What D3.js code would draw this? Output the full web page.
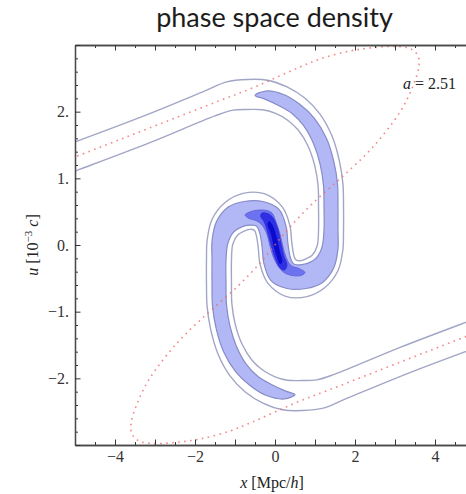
<!DOCTYPE html>
<html><head><meta charset="utf-8">
<script src="https://cdn.jsdelivr.net/npm/d3@7"></script>
<style>html,body{margin:0;padding:0;background:#fff;} svg{display:block;}</style>
</head><body>
<svg id="chart" width="466" height="494"></svg>
<script>
// ---------- data ----------
const xDomain = [-5, 5];
const uDomain = [-3, 3];
const xMajorTicks = [-5,-4,-3,-2,-1,0,1,2,3,4,5];
const xMinorTicks = [-4.5,-3.5,-2.5,-1.5,-0.5,0.5,1.5,2.5,3.5,4.5];
const xLabelTicks = [-4,-2,0,2,4];
const uMajorTicks = [-3,-2,-1,0,1,2,3];
const uMinorTicks = [-2.8,-2.6,-2.4,-2.2,-1.8,-1.6,-1.4,-1.2,-0.8,-0.6,-0.4,-0.2,0.2,0.4,0.6,0.8,1.2,1.4,1.6,1.8,2.2,2.4,2.6,2.8];
const uLabelTicks = [-2,-1,0,1,2];
const titleText = "phase space density";
const scaleFactor = "2.51";

// density contour rings (x [Mpc/h], u [1e-3 c]); lowest level first
const contourLevel1 = [
 [-5.625,1.406],[-5.125,1.518],[-3.373,1.914],[-1.75,2.312],[-1.208,2.447],[-0.685,2.483],[-0.188,2.472],[0.30,2.373],[0.743,2.205],[1.12,1.967],[1.423,1.638],[1.605,1.274],[1.698,0.917],[1.713,0.57],[1.713,0.221],[1.695,-0.080],[1.573,-0.386],[1.248,-0.638],[0.798,-0.774],[0.27,-0.770],[-0.18,-0.572],[-0.373,-0.291],[-0.42,-0.033],
 [-0.473,0.159],[-0.513,0.218],[-0.588,0.237],[-0.675,0.230],[-0.788,0.203],[-0.928,0.155],[-1.055,0.011],[-1.088,-0.230],[-1.088,-0.57],[-1.078,-0.884],[-0.995,-1.187],[-0.828,-1.482],[-0.58,-1.724],[-0.308,-1.875],[0,-1.977],[0.313,-2.028],[0.665,-2.033],[1.043,-2.024],[1.5,-1.937],[3.128,-1.536],[4.875,-1.137],[5.375,-1.025],
 [5.625,-1.406],[5.125,-1.518],[3.373,-1.914],[1.75,-2.312],[1.208,-2.447],[0.685,-2.483],[0.188,-2.472],[-0.30,-2.373],[-0.743,-2.205],[-1.12,-1.967],[-1.423,-1.638],[-1.605,-1.274],[-1.698,-0.917],[-1.713,-0.57],[-1.713,-0.221],[-1.695,0.080],[-1.573,0.386],[-1.248,0.638],[-0.798,0.774],[-0.27,0.770],[0.18,0.572],[0.373,0.291],[0.42,0.033],
 [0.473,-0.159],[0.513,-0.218],[0.588,-0.237],[0.675,-0.230],[0.788,-0.203],[0.928,-0.155],[1.055,-0.011],[1.088,0.230],[1.088,0.57],[1.078,0.884],[0.995,1.187],[0.828,1.482],[0.58,1.724],[0.308,1.875],[0,1.977],[-0.313,2.028],[-0.665,2.033],[-1.043,2.024],[-1.5,1.937],[-3.128,1.536],[-4.875,1.137],[-5.375,1.025]
];
const contourLevel2 = [
 [-0.5,2.243],[-0.233,2.309],[0.213,2.258],[0.618,2.111],[0.98,1.904],[1.285,1.602],[1.47,1.254],[1.563,0.909],[1.575,0.57],[1.575,0.222],[1.573,-0.066],[1.465,-0.348],[1.17,-0.569],[0.77,-0.653],[0.303,-0.653],[-0.1,-0.534],[-0.278,-0.276],[-0.323,-0.026],
 [-0.378,0.174],[-0.45,0.276],[-0.498,0.293],[-0.63,0.297],[-0.83,0.272],[-1.035,0.192],[-1.178,0.024],[-1.225,-0.228],[-1.225,-0.57],[-1.213,-0.891],[-1.13,-1.206],[-0.965,-1.518],[-0.72,-1.787],[-0.433,-1.97],[-0.088,-2.093],[0.268,-2.192],
 [0.5,-2.243],[0.233,-2.309],[-0.213,-2.258],[-0.618,-2.111],[-0.98,-1.904],[-1.285,-1.602],[-1.47,-1.254],[-1.563,-0.909],[-1.575,-0.57],[-1.575,-0.222],[-1.573,0.066],[-1.465,0.348],[-1.17,0.569],[-0.77,0.653],[-0.303,0.653],[0.1,0.534],[0.278,0.276],[0.323,0.026],
 [0.378,-0.174],[0.45,-0.276],[0.498,-0.293],[0.63,-0.297],[0.83,-0.272],[1.035,-0.192],[1.178,-0.024],[1.225,0.228],[1.225,0.57],[1.213,0.891],[1.13,1.206],[0.965,1.518],[0.72,1.787],[0.433,1.97],[0.088,2.093],[-0.268,2.192]
];
const contourLevel3 = [
 [-0.75,0.45],[-0.6,0.5025],[-0.4,0.525],[-0.2,0.5175],[-0.075,0.48],[0.025,0.345],[0.125,0.165],[0.2,-0.03],[0.275,-0.18],[0.4,-0.3075],[0.6,-0.3525],[0.75,-0.4125],[0.65,-0.4575],[0.425,-0.4575],[0.225,-0.4125],[0.075,-0.315],[-0.05,-0.165],[-0.1375,0.015],[-0.2125,0.18],[-0.325,0.3],[-0.475,0.3675],[-0.65,0.3975]
];
const contourLevel4 = [
 [-0.325,0.48],[-0.175,0.4725],[-0.05,0.41],[0.07,0.24],[0.15,0.03],[0.225,-0.165],[0.3,-0.3],[0.24,-0.375],[0.12,-0.34],[0.0,-0.19],[-0.1,0],[-0.18,0.18],[-0.27,0.345],[-0.36,0.43]
];
const contourLevel5 = [
 [-0.15,0.36],[-0.05,0.285],[0.045,0.105],[0.12,-0.09],[0.185,-0.24],[0.13,-0.29],[0.045,-0.18],[-0.04,0],[-0.11,0.18],[-0.185,0.3]
];
// initial (linear) phase-space sheet, red dotted
const sheetCurve = [
 [-5.5,1.2],[-5,1.32],[-3.875,1.5825],[-2.625,1.875],[-1.375,2.1675],[-0.625,2.34],[0,2.505],[0.625,2.67],[1.125,2.79],[1.875,2.91],[2.5,2.9625],[3.05,2.9775],[3.4,2.94],[3.575,2.835],[3.6,2.685],[3.45,2.385],[3.125,1.995],[2.425,1.455],[1.675,1.02],[0.925,0.615],[0.375,0.27],[0,0],
 [-0.375,-0.27],[-0.925,-0.615],[-1.675,-1.02],[-2.425,-1.455],[-3.125,-1.995],[-3.45,-2.385],[-3.6,-2.685],[-3.575,-2.835],[-3.4,-2.94],[-3.05,-2.9775],[-2.5,-2.9625],[-1.875,-2.91],[-1.125,-2.79],[-0.625,-2.67],[0,-2.505],[0.625,-2.34],[1.375,-2.1675],[2.625,-1.875],[3.875,-1.5825],[5,-1.32],[5.5,-1.2]
];

// ---------- drawing ----------
const svg = d3.select("#chart");
const x = d3.scaleLinear().domain(xDomain).range([75, 475]);
const y = d3.scaleLinear().domain(uDomain).range([445, 45]);

svg.append("defs").append("clipPath").attr("id","plotclip")
  .append("rect").attr("x",75).attr("y",45).attr("width",400).attr("height",400);

const plot = svg.append("g").attr("clip-path","url(#plotclip)");
const ring = d3.line().x(d => x(d[0])).y(d => y(d[1])).curve(d3.curveCatmullRomClosed.alpha(0.5));
const open = d3.line().x(d => x(d[0])).y(d => y(d[1])).curve(d3.curveCatmullRom.alpha(0.5));

const levels = [
  {data: contourLevel1, fill: "#ffffff", stroke: "#a2a6c6", sw: 1.4},
  {data: contourLevel2, fill: "#b2b7f6", stroke: "#868cc6", sw: 1.2},
  {data: contourLevel3, fill: "#6c72f0", stroke: "#5a5fd6", sw: 0.8},
  {data: contourLevel4, fill: "#2f30e6", stroke: "#2626d0", sw: 0.6},
  {data: contourLevel5, fill: "#0b0bcc", stroke: "none", sw: 0}
];
levels.forEach(l => {
  plot.append("path").attr("d", ring(l.data))
    .attr("fill", l.fill).attr("stroke", l.stroke).attr("stroke-width", l.sw)
    .attr("stroke-linejoin","round");
});

plot.append("path").attr("d", open(sheetCurve))
  .attr("fill","none").attr("stroke","#f06a6a").attr("stroke-width",1.6)
  .attr("stroke-dasharray","1.6,4.4").attr("stroke-linecap","butt").attr("opacity",0.8);

// axes (frame with inward ticks)
const tickFont = "'Liberation Serif','Times New Roman',serif";
function styleAxis(g){
  g.selectAll(".domain").attr("stroke","#4a4a4a").attr("stroke-width",1.3);
  g.selectAll(".tick line").attr("stroke","#333").attr("stroke-width",1);
  g.selectAll(".tick text").attr("fill","#333").style("font-family",tickFont).style("font-size","16px");
}
const fmtX = d => xLabelTicks.includes(d) ? (d < 0 ? "\u2212" + Math.abs(d) : String(d)) : "";
const fmtU = d => uLabelTicks.includes(d) ? (d < 0 ? "\u2212" + Math.abs(d) + "." : d + ".") : "";

const gB1 = svg.append("g").attr("transform","translate(0,445)")
  .call(d3.axisBottom(x).tickValues(xMinorTicks).tickSize(-3).tickSizeOuter(0).tickFormat(""));
const gB2 = svg.append("g").attr("transform","translate(0,445)")
  .call(d3.axisBottom(x).tickValues(xMajorTicks).tickSize(-5.5).tickSizeOuter(0).tickPadding(6).tickFormat(fmtX));
const gT1 = svg.append("g").attr("transform","translate(0,45)")
  .call(d3.axisTop(x).tickValues(xMinorTicks).tickSize(-3).tickSizeOuter(0).tickFormat(""));
const gT2 = svg.append("g").attr("transform","translate(0,45)")
  .call(d3.axisTop(x).tickValues(xMajorTicks).tickSize(-5.5).tickSizeOuter(0).tickFormat(""));
const gL1 = svg.append("g").attr("transform","translate(75,0)")
  .call(d3.axisLeft(y).tickValues(uMinorTicks).tickSize(-3).tickSizeOuter(0).tickFormat(""));
const gL2 = svg.append("g").attr("transform","translate(75,0)")
  .call(d3.axisLeft(y).tickValues(uMajorTicks).tickSize(-5.5).tickSizeOuter(0).tickPadding(6).tickFormat(fmtU));
const gR1 = svg.append("g").attr("transform","translate(475,0)")
  .call(d3.axisRight(y).tickValues(uMinorTicks).tickSize(-3).tickSizeOuter(0).tickFormat(""));
const gR2 = svg.append("g").attr("transform","translate(475,0)")
  .call(d3.axisRight(y).tickValues(uMajorTicks).tickSize(-5.5).tickSizeOuter(0).tickFormat(""));
[gB1,gB2,gT1,gT2,gL1,gL2,gR1,gR2].forEach(styleAxis);

// title
svg.append("text").attr("x",274.5).attr("y",27).attr("text-anchor","middle")
  .style("font-family","Lato, 'Open Sans', sans-serif").style("font-size","27px")
  .attr("fill","#1c1c1c").text(titleText);

// scale factor annotation
const ann = svg.append("text").attr("x",403).attr("y",88.5)
  .style("font-family",tickFont).style("font-size","16px").attr("fill","#222");
ann.append("tspan").style("font-style","italic").text("a");
ann.append("tspan").text(" = " + scaleFactor);

// x label
const xl = svg.append("text").attr("x",272).attr("y",488).attr("text-anchor","middle")
  .style("font-family",tickFont).style("font-size","16px").attr("fill","#222");
xl.append("tspan").style("font-style","italic").text("x");
xl.append("tspan").text(" [Mpc/");
xl.append("tspan").style("font-style","italic").text("h");
xl.append("tspan").text("]");

// y label
const yl = svg.append("text").attr("transform","translate(38,245) rotate(-90)").attr("text-anchor","middle")
  .style("font-family",tickFont).style("font-size","16px").attr("fill","#222");
yl.append("tspan").style("font-style","italic").text("u");
yl.append("tspan").text(" [10");
yl.append("tspan").attr("dy",-6).style("font-size","11px").text("\u22123");
yl.append("tspan").attr("dy",6).text(" ");
yl.append("tspan").style("font-style","italic").text("c");
yl.append("tspan").text("]");
</script>
</body></html>
